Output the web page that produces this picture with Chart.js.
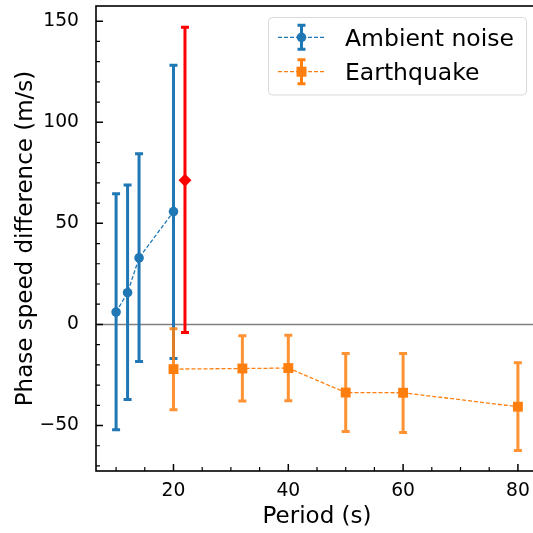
<!DOCTYPE html>
<html>
<head>
<meta charset="utf-8">
<script src="https://cdn.jsdelivr.net/npm/chart.js@4.4.0/dist/chart.umd.min.js"></script>
<style>
  html, body { margin: 0; padding: 0; background: #fff; overflow: hidden; }
  #clip { width: 533px; height: 533px; overflow: hidden; position: relative; }
  canvas { display: block; }
</style>
</head>
<body>
<div id="clip"><canvas id="chart" width="540" height="533"></canvas></div>
<script>
// data
const seriesNames = ['Ambient noise', 'Earthquake'];

const noisePeriod = [10, 12, 14, 20];
const noiseDiff   = [6.1, 15.7, 32.9, 55.8];
const noiseLow    = [-52.1, -37.1, -18.3, -16.8];
const noiseHigh   = [64.6, 69.0, 84.4, 128.2];

const quakePeriod = [20, 32, 40, 50, 60, 80];
const quakeDiff   = [-22.1, -21.8, -21.6, -33.7, -33.8, -40.7];
const quakeLow    = [-42.2, -37.9, -37.8, -53.0, -53.5, -62.4];
const quakeHigh   = [-2.1, -5.6, -5.3, -14.4, -14.4, -19.0];

const redPeriod = [22];
const redDiff   = [71.3];
const redLow    = [-4.0];
const redHigh   = [147.0];

const xTicks = [20, 40, 60, 80];
const yTicks = [-50, 0, 50, 100, 150];
const xRange = [6.5, 83.5];
const yRange = [-72.5, 157.5];

const BLUE = '#1f77b4';
const ORANGE = '#ff7f0e';
const RED = '#ff0000';
const FONT = 'DejaVu Sans';

function toPoints(xs, ys) {
    return xs.map((x, i) => ({ x: x, y: ys[i] }));
}

const errorSets = [
    { xs: noisePeriod, lo: noiseLow, hi: noiseHigh, color: BLUE },
    { xs: quakePeriod, lo: quakeLow, hi: quakeHigh, color: 'rgba(255,127,14,0.85)' },
    { xs: redPeriod, lo: redLow, hi: redHigh, color: RED }
];

function minorTicks(min, max, step, majors) {
    const out = [];
    for (let v = Math.ceil(min / step) * step; v <= max; v += step) {
        if (majors.indexOf(v) < 0) out.push(v);
    }
    return out;
}

function drawErrorBar(ctx, px, pl, ph, half) {
    ctx.beginPath();
    ctx.moveTo(px, pl); ctx.lineTo(px, ph);
    ctx.moveTo(px - half, pl); ctx.lineTo(px + half, pl);
    ctx.moveTo(px - half, ph); ctx.lineTo(px + half, ph);
    ctx.stroke();
}

function drawLegend(ctx) {
    const bx = 268.5, by = 17.5, bw = 258, bh = 77.5, r = 4;
    ctx.save();
    ctx.beginPath();
    ctx.roundRect(bx, by, bw, bh, r);
    ctx.fillStyle = 'rgba(255,255,255,0.8)';
    ctx.fill();
    ctx.strokeStyle = '#d9d9d9';
    ctx.lineWidth = 1;
    ctx.stroke();

    const rows = [
        { label: seriesNames[0], color: BLUE, style: 'circle', y: 37.3 },
        { label: seriesNames[1], color: ORANGE, style: 'rect', y: 71.7 }
    ];
    rows.forEach(row => {
        // dashed line
        ctx.strokeStyle = row.color;
        ctx.lineWidth = 1.3;
        ctx.setLineDash([4, 2]);
        ctx.beginPath();
        ctx.moveTo(278, row.y); ctx.lineTo(325, row.y);
        ctx.stroke();
        ctx.setLineDash([]);
        // error bar
        ctx.lineWidth = 3;
        drawErrorBar(ctx, 301.5, row.y + 12, row.y - 12, 4);
        // marker
        ctx.fillStyle = row.color;
        ctx.beginPath();
        if (row.style === 'circle') {
            ctx.arc(301.5, row.y, 4.8, 0, Math.PI * 2);
        } else {
            ctx.rect(301.5 - 5, row.y - 5, 10, 10);
        }
        ctx.fill();
        // text
        ctx.fillStyle = '#000';
        ctx.font = '23.5px "' + FONT + '"';
        ctx.textAlign = 'left';
        ctx.textBaseline = 'alphabetic';
        ctx.fillText(row.label, 345, row.y + 8.7);
    });
    ctx.restore();
}

const axesPlugin = {
    id: 'axesPlugin',
    beforeDatasetsDraw(chart) {
        const { ctx, chartArea: a, scales: { x, y } } = chart;
        ctx.save();
        // horizontal zero line
        const y0 = y.getPixelForValue(0);
        ctx.strokeStyle = '#808080';
        ctx.lineWidth = 1.5;
        ctx.beginPath();
        ctx.moveTo(a.left, y0); ctx.lineTo(a.right, y0);
        ctx.stroke();
        // error bars
        ctx.lineCap = 'butt';
        errorSets.forEach(s => {
            ctx.strokeStyle = s.color;
            ctx.lineWidth = 3;
            s.xs.forEach((v, i) => {
                drawErrorBar(ctx, x.getPixelForValue(v),
                    y.getPixelForValue(s.lo[i]), y.getPixelForValue(s.hi[i]), 4);
            });
        });
        ctx.restore();
    },
    afterDraw(chart) {
        const { ctx, chartArea: a, scales: { x, y } } = chart;
        ctx.save();
        ctx.strokeStyle = '#000';
        // inward ticks
        ctx.lineWidth = 1.5;
        ctx.beginPath();
        xTicks.forEach(v => {
            const px = x.getPixelForValue(v);
            ctx.moveTo(px, a.bottom); ctx.lineTo(px, a.bottom - 7);
        });
        yTicks.forEach(v => {
            const py = y.getPixelForValue(v);
            ctx.moveTo(a.left, py); ctx.lineTo(a.left + 7, py);
        });
        ctx.stroke();
        ctx.lineWidth = 1.2;
        ctx.beginPath();
        minorTicks(xRange[0], xRange[1], 5, xTicks).forEach(v => {
            const px = x.getPixelForValue(v);
            ctx.moveTo(px, a.bottom); ctx.lineTo(px, a.bottom - 4);
        });
        minorTicks(yRange[0], yRange[1], 10, yTicks).forEach(v => {
            const py = y.getPixelForValue(v);
            ctx.moveTo(a.left, py); ctx.lineTo(a.left + 4, py);
        });
        ctx.stroke();
        // frame
        ctx.lineWidth = 1.6;
        ctx.strokeRect(a.left, a.top, a.right - a.left, a.bottom - a.top);
        ctx.restore();
        drawLegend(ctx);
    }
};

const ctx = document.getElementById('chart').getContext('2d');
new Chart(ctx, {
    type: 'scatter',
    data: {
        datasets: [{
            label: seriesNames[0],
            data: toPoints(noisePeriod, noiseDiff),
            showLine: true,
            borderColor: BLUE,
            borderWidth: 1.3,
            borderDash: [4, 2],
            pointStyle: 'circle',
            pointRadius: 4.8,
            pointBackgroundColor: BLUE,
            pointBorderWidth: 0
        }, {
            label: seriesNames[1],
            data: toPoints(quakePeriod, quakeDiff),
            showLine: true,
            borderColor: ORANGE,
            borderWidth: 1.3,
            borderDash: [4, 2],
            pointStyle: 'rect',
            pointRadius: 7,
            pointBackgroundColor: ORANGE,
            pointBorderWidth: 0
        }, {
            label: 'point',
            data: toPoints(redPeriod, redDiff),
            showLine: false,
            pointStyle: 'rectRot',
            pointRadius: 6.5,
            pointBackgroundColor: RED,
            pointBorderWidth: 0
        }]
    },
    options: {
        responsive: false,
        animation: false,
        layout: { autoPadding: false, padding: { top: 6, right: 2, left: 0, bottom: 0 } },
        plugins: {
            legend: { display: false },
            tooltip: { enabled: false }
        },
        scales: {
            x: {
                type: 'linear',
                min: xRange[0],
                max: xRange[1],
                grid: { display: false },
                border: { display: false },
                afterBuildTicks: s => { s.ticks = xTicks.map(v => ({ value: v })); },
                afterFit: s => {
                    s.height = 62;
                    s.paddingLeft = 0;
                    s.paddingRight = 0;
                },
                ticks: {
                    color: '#000',
                    padding: 1,
                    font: { family: FONT, size: 18.7 },
                    callback: v => String(v)
                },
                title: {
                    display: true,
                    text: 'Period (s)',
                    color: '#000',
                    font: { family: FONT, size: 23 },
                    padding: { top: 0, bottom: 2 }
                }
            },
            y: {
                type: 'linear',
                min: yRange[0],
                max: yRange[1],
                grid: { display: false },
                border: { display: false },
                afterBuildTicks: s => { s.ticks = yTicks.map(v => ({ value: v })); },
                afterFit: s => {
                    s.width = 96;
                    s.paddingTop = 0;
                    s.paddingBottom = 0;
                },
                ticks: {
                    color: '#000',
                    padding: 9,
                    font: { family: FONT, size: 18.7 },
                    callback: v => String(v).replace('-', '\u2212')
                },
                title: {
                    display: true,
                    text: 'Phase speed difference (m/s)',
                    color: '#000',
                    font: { family: FONT, size: 23 },
                    padding: { top: 12, bottom: 0 }
                }
            }
        }
    },
    plugins: [axesPlugin]
});
</script>
</body>
</html>
